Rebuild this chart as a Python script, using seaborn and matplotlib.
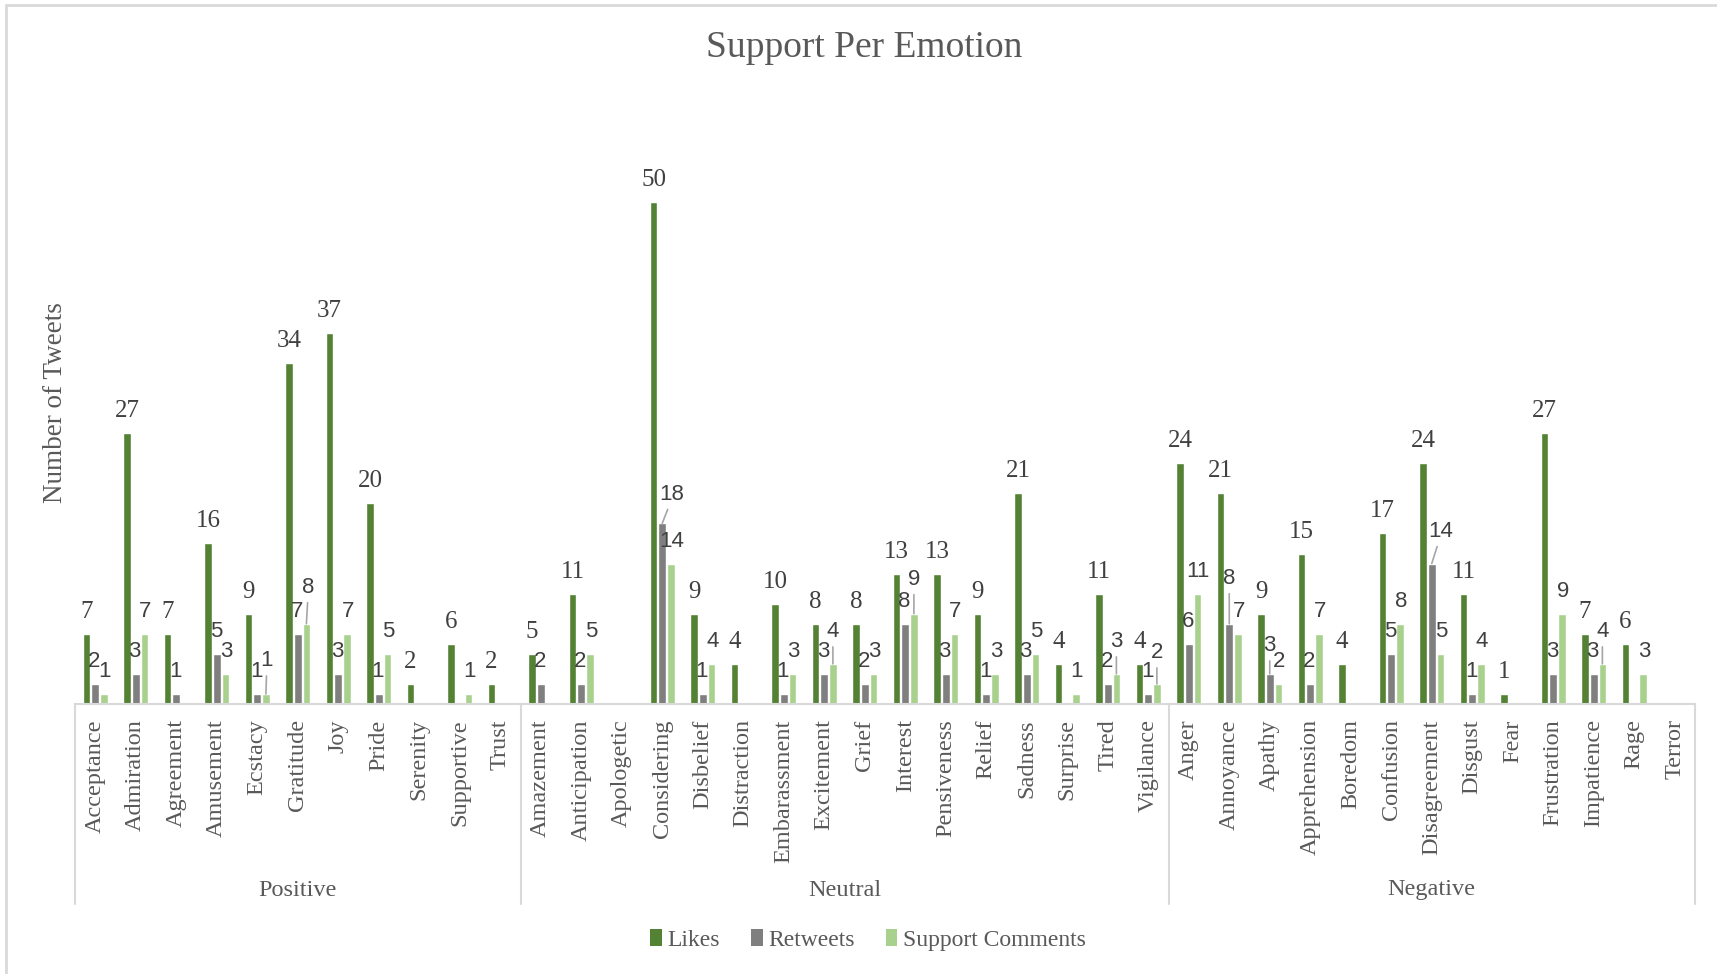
import matplotlib
matplotlib.use("Agg")
import matplotlib.pyplot as plt
import matplotlib.transforms as mtransforms
from matplotlib.lines import Line2D
from matplotlib.patches import Patch
import pandas as pd
import seaborn as sns

# Emotion categories, grouped by sentiment
positive = ["Acceptance", "Admiration", "Agreement", "Amusement", "Ecstacy",
            "Gratitude", "Joy", "Pride", "Serenity", "Supportive", "Trust"]
neutral = ["Amazement", "Anticipation", "Apologetic", "Considering", "Disbelief",
           "Distraction", "Embarassment", "Excitement", "Grief", "Interest",
           "Pensiveness", "Relief", "Sadness", "Surprise", "Tired", "Vigilance"]
negative = ["Anger", "Annoyance", "Apathy", "Apprehension", "Boredom", "Confusion",
            "Disagreement", "Disgust", "Fear", "Frustration", "Impatience", "Rage",
            "Terror"]
group_names = ["Positive", "Neutral", "Negative"]

# Counts per emotion (0 = no tweets, left unlabelled)
likes = [7, 27, 7, 16, 9, 34, 37, 20, 2, 6, 2,
         5, 11, 0, 50, 9, 4, 10, 8, 8, 13, 13, 9, 21, 4, 11, 4,
         24, 21, 9, 15, 4, 17, 24, 11, 1, 27, 7, 6, 0]
retweets = [2, 3, 1, 5, 1, 7, 3, 1, 0, 0, 0,
            2, 2, 0, 18, 1, 0, 1, 3, 2, 8, 3, 1, 3, 0, 2, 1,
            6, 8, 3, 2, 0, 5, 14, 1, 0, 3, 3, 0, 0]
support_comments = [1, 7, 0, 3, 1, 8, 7, 5, 0, 1, 0,
                    0, 5, 0, 14, 4, 0, 3, 4, 3, 9, 7, 3, 5, 1, 3, 2,
                    11, 7, 2, 7, 0, 8, 5, 4, 0, 9, 4, 3, 0]

series_names = ["Likes", "Retweets", "Support Comments"]
palette = {"Likes": "#548235", "Retweets": "#7F7F7F", "Support Comments": "#A9D18E"}

emotions = positive + neutral + negative
series_values = {"Likes": likes, "Retweets": retweets, "Support Comments": support_comments}
df = pd.DataFrame({
    "Emotion": emotions * 3,
    "Metric": [s for s in series_names for _ in emotions],
    "Count": likes + retweets + support_comments,
})

# Labels moved off their bars, joined back with a leader line: (dx, dy) in pixels
moved_labels = {
    ("Ecstacy", "Support Comments"): (1, 33),
    ("Gratitude", "Support Comments"): (2, 36),
    ("Considering", "Retweets"): (9, 29),
    ("Excitement", "Support Comments"): (0, 32),
    ("Interest", "Support Comments"): (0, 34),
    ("Tired", "Support Comments"): (0, 32),
    ("Vigilance", "Support Comments"): (0, 31),
    ("Annoyance", "Retweets"): (0, 45),
    ("Apathy", "Retweets"): (0, 28),
    ("Disagreement", "Retweets"): (9, 32),
    ("Impatience", "Support Comments"): (0, 32),
}

sns.set_theme(style="white")
plt.rcParams["font.family"] = ["Liberation Serif", "DejaVu Serif"]

W, H = 1717, 974
fig = plt.figure(figsize=(W / 100, H / 100), dpi=100)
ax_left, ax_right, ax_bottom, ax_top = 75, 1695, 704, 102
ax = fig.add_axes([ax_left / W, 1 - ax_bottom / H,
                   (ax_right - ax_left) / W, (ax_bottom - ax_top) / H])

sns.barplot(data=df, x="Emotion", y="Count", hue="Metric", order=emotions,
            hue_order=series_names, palette=palette, saturation=1,
            width=0.64, gap=0.12, errorbar=None, legend=False, ax=ax)

ax.set_xlim(-0.5, len(emotions) - 0.5)
ax.set_ylim(0, 60)
ax.set_yticks([])
ax.set_xlabel("")
ax.set_ylabel("")
for side in ["left", "right", "top"]:
    ax.spines[side].set_visible(False)
ax.spines["bottom"].set_color("#D9D9D9")
ax.spines["bottom"].set_linewidth(1.5)

ax.set_xticks(range(len(emotions)))
ax.set_xticklabels(emotions, rotation=90, fontsize=17.5, color="#595959")
ax.tick_params(axis="x", length=0, pad=11)

# Value labels above each bar; the small series sit slightly apart sideways
label_color = "#404040"
side_shift = {"Likes": 0, "Retweets": -1, "Support Comments": 1}
for name, container in zip(series_names, ax.containers):
    vals = series_values[name]
    family = ["Liberation Serif"] if name == "Likes" else ["Liberation Sans"]
    size = 18 if name == "Likes" else 16
    for i, bar in enumerate(container):
        v = vals[i]
        if v == 0:
            continue
        x = bar.get_x() + bar.get_width() / 2
        y = bar.get_height()
        key = (emotions[i], name)
        dx, dy = moved_labels.get(key, (side_shift[name], 22))
        if key in moved_labels:
            ax.annotate("", xy=(x, y), xytext=(dx * 0.6, dy - 15),
                        textcoords="offset pixels",
                        arrowprops=dict(arrowstyle="-", color="#A6A6A6", lw=1.2,
                                        shrinkA=0, shrinkB=0))
        ax.annotate(str(v), xy=(x, y), xytext=(dx, dy), textcoords="offset pixels",
                    ha="center", va="center", fontsize=size, color=label_color,
                    family=family)

# Sentiment group separators and labels beneath the category labels
blend = mtransforms.blended_transform_factory(ax.transData, fig.transFigure)
y_top_line = 1 - ax_bottom / H
y_bottom_line = 1 - 904 / H
bounds = [-0.5]
for g in [positive, neutral, negative]:
    bounds.append(bounds[-1] + len(g))
for b in bounds:
    fig.add_artist(Line2D([b, b], [y_top_line, y_bottom_line], transform=blend,
                          color="#D9D9D9", lw=1.5))
for gname, lo, hi in zip(group_names, bounds[:-1], bounds[1:]):
    fig.text((lo + hi) / 2, 1 - 890 / H, gname, transform=blend, ha="center",
             va="center", fontsize=17.5, color="#595959")

# Title, axis title, legend
fig.text(864 / W, 1 - 48 / H, "Support Per Emotion", ha="center", va="center",
         fontsize=27, color="#595959")
fig.text(55 / W, 1 - 403 / H, "Number of Tweets", ha="center", va="center",
         rotation=90, fontsize=19.5, color="#595959")

handles = [Patch(facecolor=palette[s], edgecolor="none", label=s) for s in series_names]
leg = fig.legend(handles=handles, loc="center", bbox_to_anchor=(868 / W, 1 - 940 / H),
                 ncol=3, frameon=False, fontsize=17, handlelength=0.5,
                 handleheight=0.7, handletextpad=0.25, columnspacing=1.3)
for t in leg.get_texts():
    t.set_color("#595959")

# Chart area border
border_x = 6 / W
border_y = 1 - 5 / H
fig.add_artist(Line2D([border_x, border_x], [0, border_y], color="#D9D9D9", lw=2))
fig.add_artist(Line2D([border_x, 1], [border_y, border_y], color="#D9D9D9", lw=2))

fig.savefig("out.png", dpi=100, facecolor="white")
